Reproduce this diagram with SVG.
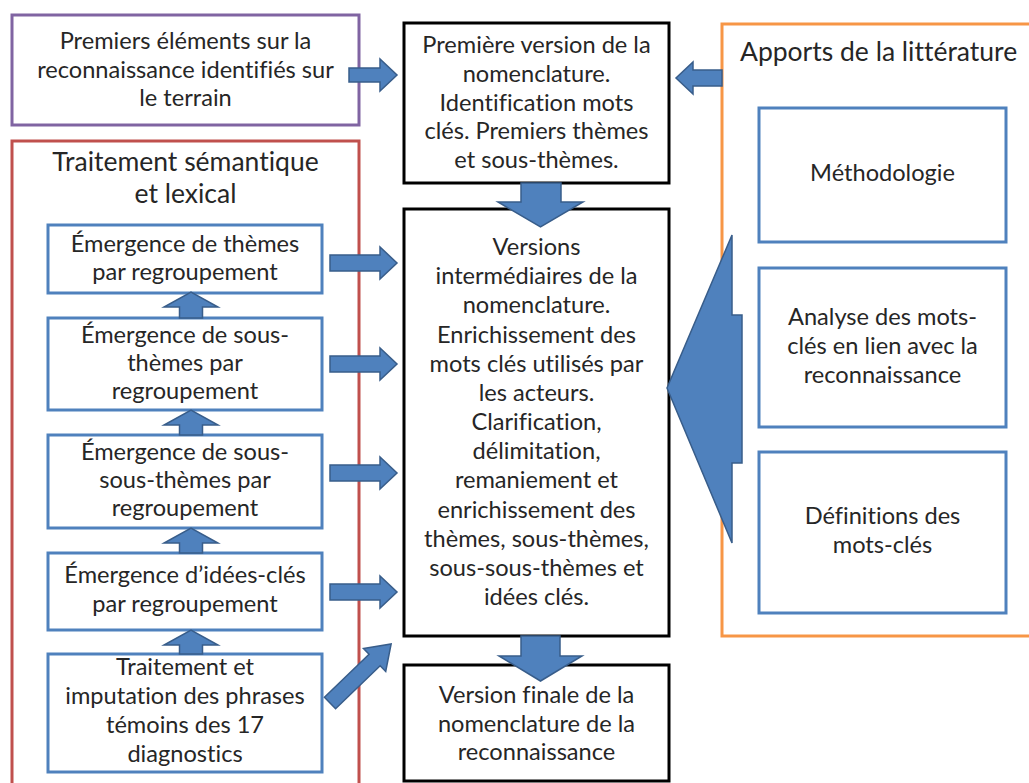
<svg xmlns="http://www.w3.org/2000/svg" width="1029" height="783" viewBox="0 0 1029 783">
<style>
.t { font-family: Lato, "Liberation Sans", sans-serif; font-size: 23.6px; fill: #262626; text-anchor: middle; font-variant-ligatures: none; }
.title { font-size: 26.5px; }
.arrow { fill: #4F81BD; stroke: #385D8A; stroke-width: 1.5; stroke-linejoin: miter; }
.blk { fill: #FFFFFF; stroke: #000000; stroke-width: 3; }
.blu { fill: #FFFFFF; stroke: #4F81BD; stroke-width: 3; }
</style>
<rect x="0" y="0" width="1029" height="783" fill="#FFFFFF"/>

<g id="literature">
  <rect x="722" y="24" width="320" height="612" fill="#FFFFFF" stroke="#F79646" stroke-width="3"/>
  <text class="t title" x="740" y="61" style="text-anchor:start">Apports de la littérature</text>
</g>
<g id="methodologie">
  <rect class="blu" x="759" y="108" width="247" height="134"/>
  <text class="t" x="882.5" y="181">Méthodologie</text>
</g>
<g id="analyse">
  <rect class="blu" x="759" y="268" width="247" height="159"/>
  <text class="t" x="882.5" y="325">Analyse des mots-</text>
  <text class="t" x="882.5" y="354">clés en lien avec la</text>
  <text class="t" x="882.5" y="383">reconnaissance</text>
</g>
<g id="definitions">
  <rect class="blu" x="759" y="452" width="247" height="161"/>
  <text class="t" x="882.5" y="524">Définitions des</text>
  <text class="t" x="882.5" y="553">mots-clés</text>
</g>

<g id="premiers-elements">
  <rect x="12" y="15" width="347" height="110" fill="#FFFFFF" stroke="#8064A2" stroke-width="3"/>
  <text class="t" x="185.5" y="49">Premiers éléments sur la</text>
  <text class="t" x="185.5" y="78">reconnaissance identifiés sur</text>
  <text class="t" x="185.5" y="106">le terrain</text>
</g>

<g id="traitement-semantique">
  <rect x="12" y="141" width="347" height="670" fill="#FFFFFF" stroke="#C0504D" stroke-width="3"/>
  <text class="t title" x="185.5" y="171">Traitement sémantique</text>
  <text class="t title" x="185.5" y="203">et lexical</text>
</g>
<g id="themes">
  <rect class="blu" x="48" y="225" width="274" height="68"/>
  <text class="t" x="185" y="252">Émergence de thèmes</text>
  <text class="t" x="185" y="280">par regroupement</text>
</g>
<g id="sous-themes">
  <rect class="blu" x="48" y="318" width="274" height="92"/>
  <text class="t" x="185" y="343">Émergence de sous-</text>
  <text class="t" x="185" y="371">thèmes par</text>
  <text class="t" x="185" y="399">regroupement</text>
</g>
<g id="sous-sous-themes">
  <rect class="blu" x="48" y="435" width="274" height="93"/>
  <text class="t" x="185" y="460">Émergence de sous-</text>
  <text class="t" x="185" y="488">sous-thèmes par</text>
  <text class="t" x="185" y="516">regroupement</text>
</g>
<g id="idees-cles">
  <rect class="blu" x="48" y="553" width="274" height="77"/>
  <text class="t" x="185" y="583">Émergence d’idées-clés</text>
  <text class="t" x="185" y="612">par regroupement</text>
</g>
<g id="phrases-temoins">
  <rect class="blu" x="48" y="654" width="274" height="118"/>
  <text class="t" x="185" y="675">Traitement et</text>
  <text class="t" x="185" y="704">imputation des phrases</text>
  <text class="t" x="185" y="733">témoins des 17</text>
  <text class="t" x="185" y="762">diagnostics</text>
</g>

<g id="premiere-version">
  <rect class="blk" x="404" y="23" width="265" height="160"/>
  <text class="t" x="536.5" y="53">Première version de la</text>
  <text class="t" x="536.5" y="82">nomenclature.</text>
  <text class="t" x="536.5" y="111">Identification mots</text>
  <text class="t" x="536.5" y="139">clés. Premiers thèmes</text>
  <text class="t" x="536.5" y="168">et sous-thèmes.</text>
</g>
<g id="versions-intermediaires">
  <rect class="blk" x="404" y="209" width="265" height="427"/>
  <text class="t" x="536.5" y="255">Versions</text>
  <text class="t" x="536.5" y="284">intermédiaires de la</text>
  <text class="t" x="536.5" y="313">nomenclature.</text>
  <text class="t" x="536.5" y="343">Enrichissement des</text>
  <text class="t" x="536.5" y="372">mots clés utilisés par</text>
  <text class="t" x="536.5" y="401">les acteurs.</text>
  <text class="t" x="536.5" y="430">Clarification,</text>
  <text class="t" x="536.5" y="459">délimitation,</text>
  <text class="t" x="536.5" y="488">remaniement et</text>
  <text class="t" x="536.5" y="518">enrichissement des</text>
  <text class="t" x="536.5" y="547">thèmes, sous-thèmes,</text>
  <text class="t" x="536.5" y="576">sous-sous-thèmes  et</text>
  <text class="t" x="536.5" y="605">idées clés.</text>
</g>
<g id="version-finale">
  <rect class="blk" x="404" y="665" width="265" height="116"/>
  <text class="t" x="536.5" y="703">Version finale de la</text>
  <text class="t" x="536.5" y="732">nomenclature de la</text>
  <text class="t" x="536.5" y="760">reconnaissance</text>
</g>

<g id="connectors">
  <path class="arrow" d="M349,68 H380 V59 L397,75 L380,91 V82 H349 Z"/>
  <path class="arrow" d="M722,70 H693 V62 L676,78 L693,94 V86 H722 Z"/>
  <path class="arrow" d="M521,183 V202 H498 L540.5,227 L583,202 H561 V183 Z"/>
  <path class="arrow" d="M521,636 V656 H499 L540.5,681 L582,656 H560 V636 Z"/>
  <path class="arrow" d="M330,255 H380 V247 L397,263 L380,279 V271 H330 Z"/>
  <path class="arrow" d="M330,356 H380 V348 L397,364 L380,380 V372 H330 Z"/>
  <path class="arrow" d="M330,465 H380 V457 L397,473 L380,489 V481 H330 Z"/>
  <path class="arrow" d="M330,584 H380 V576 L397,592 L380,608 V600 H330 Z"/>
  <path class="arrow" d="M179.5,318 V307 H164 L191,292 L218,307 H202.5 V318 Z"/>
  <path class="arrow" d="M179.5,435 V425 H164 L191,410 L218,425 H202.5 V435 Z"/>
  <path class="arrow" d="M179.5,553 V543 H164 L191,528 L218,543 H202.5 V553 Z"/>
  <path class="arrow" d="M179.5,654 V645 H164 L191,630 L218,645 H202.5 V654 Z"/>
  <path class="arrow" transform="translate(330,703) rotate(-44)" d="M0,-8 H62 V-16 L85,0 L62,16 V8 H0 Z"/>
  <path class="arrow" d="M742,315 H732 V235 L667,388 L732,543 V463 H742 Z"/>
</g>
</svg>
